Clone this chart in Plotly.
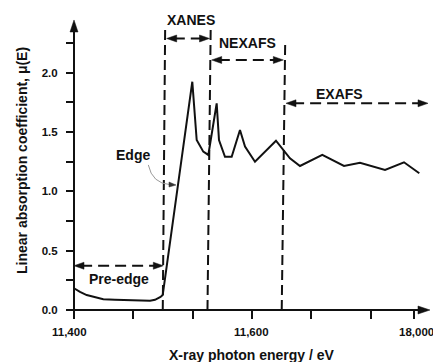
import plotly.graph_objects as go

# ---- data (x in axis-position units: one unit per major x tick) ----
x_pos = [0.0, 0.101, 0.214, 0.354, 0.494, 0.691, 0.889, 1.113, 1.282, 1.366, 1.422, 1.459, 1.496,
         1.995, 2.069, 2.180, 2.265, 2.406, 2.445, 2.546, 2.659, 2.799, 2.884, 3.052,
         3.406, 3.530, 3.642, 3.811, 4.187, 4.553, 4.823, 5.245, 5.565, 5.823]
mu = [0.183, 0.152, 0.126, 0.105, 0.090, 0.087, 0.084, 0.080, 0.078, 0.086, 0.099, 0.110, 0.126,
      1.923, 1.432, 1.334, 1.306, 1.741, 1.432, 1.291, 1.291, 1.516, 1.376, 1.249,
      1.426, 1.348, 1.278, 1.213, 1.306, 1.213, 1.241, 1.179, 1.244, 1.152]

x_tick_pos = [0, 1, 2, 3, 4, 5, 5.73]
x_tick_text = ["11,400", "", "", "11,600", "", "", "18,000"]
y_tick_vals = [0, 0.25, 0.5, 0.75, 1.0, 1.25, 1.5, 1.75, 2.0, 2.25]
y_tick_text = ["0.0", "", "0.5", "", "1.0", "", "1.5", "", "2.0", ""]

# region boundaries (x_bottom, x_top, y_top)
boundaries = [(1.497, 1.537, 2.367), (2.251, 2.305, 2.367), (3.503, 3.562, 2.275)]
# region arrows: (label, x_left, x_right, y_arrow, label_x, label_y)
regions = [("Pre-edge", 0.0, 1.506, 0.373, 0.764, 0.259),
           ("XANES", 1.563, 2.285, 2.287, 1.973, 2.443),
           ("NEXAFS", 2.322, 3.530, 2.106, 2.932, 2.247),
           ("EXAFS", 3.575, 5.970, 1.741, 4.469, 1.822)]

X_TIP = 6.003   # x-axis arrow tip
Y_TIP = 2.443   # y-axis arrow tip
X_RANGE = [-0.1686, 6.054]
Y_RANGE = [-0.0674, 2.527]
FONT = "Liberation Sans, Arial, sans-serif"
BLACK = "#111111"

fig = go.Figure()
fig.add_trace(go.Scatter(x=x_pos, y=mu, mode="lines", cliponaxis=False,
                         line=dict(color=BLACK, width=2), hoverinfo="skip"))

shapes = []
annotations = []


def head(xa, ya, direction, length=10, half=3.5):
    if direction == "right":
        p = f"M0,0 L{-length},{half} L{-length},{-half} Z"
    elif direction == "left":
        p = f"M0,0 L{length},{half} L{length},{-half} Z"
    else:  # up
        p = f"M0,0 L{-half},{-length} L{half},{-length} Z"
    return dict(type="path", xref="x", yref="y", xsizemode="pixel", ysizemode="pixel",
                xanchor=xa, yanchor=ya, path=p, fillcolor=BLACK,
                line=dict(color=BLACK, width=0.5), layer="above")


# axis lines with arrowheads (drawn inside the enlarged plot area)
shapes.append(dict(type="line", xref="x", yref="y", x0=0, y0=-0.0085, x1=0, y1=Y_TIP - 0.06,
                   line=dict(color=BLACK, width=2)))
shapes.append(dict(type="line", xref="x", yref="y", x0=0, y0=0, x1=X_TIP - 0.12, y1=0,
                   line=dict(color=BLACK, width=2)))
shapes.append(head(0, Y_TIP, "up", length=12, half=4))
shapes.append(head(X_TIP, 0, "right", length=12, half=4))

for xb, xt, yt in boundaries:
    shapes.append(dict(type="line", xref="x", yref="y", x0=xb, y0=0, x1=xt, y1=yt,
                       line=dict(color=BLACK, width=2, dash="10px,5px")))

for label, xl, xr, ya, lx, ly in regions:
    shapes.append(dict(type="line", xref="x", yref="y", x0=xl + 0.12, y0=ya, x1=xr - 0.12, y1=ya,
                       line=dict(color=BLACK, width=2, dash="11px,6px")))
    shapes.append(head(xl, ya, "left"))
    shapes.append(head(xr, ya, "right"))
    annotations.append(dict(x=lx, y=ly, xref="x", yref="y", text=label, showarrow=False,
                            font=dict(family=FONT, size=14, color=BLACK, weight="bold"),
                            xanchor="center", yanchor="middle"))

# x tick labels as annotations (fine placement)
label_shift = {"11,400": -5, "11,600": 0, "18,000": 3}
for pos, txt in zip(x_tick_pos, x_tick_text):
    if txt:
        annotations.append(dict(x=pos, y=-0.04545, xref="x", yref="paper", text=txt,
                                showarrow=False, xshift=label_shift[txt],
                                font=dict(family=FONT, size=11.5, color=BLACK, weight="bold"),
                                xanchor="center", yanchor="middle"))

# Edge label with curved pointer
annotations.append(dict(x=1.0, y=1.306, xref="x", yref="y", text="Edge", showarrow=False,
                        font=dict(family=FONT, size=14, color=BLACK, weight="bold"),
                        xanchor="center", yanchor="middle"))
shapes.append(dict(type="path", xref="x", yref="y", path="M 1.253,1.222 Q 1.32,1.065 1.62,1.056",
                   line=dict(color="#999999", width=1)))
shapes.append(dict(type="path", xref="x", yref="y", xsizemode="pixel", ysizemode="pixel",
                   xanchor=1.72, yanchor=1.053, path="M0,0 L-7,3 L-7,-2 Z",
                   fillcolor="#333333", line=dict(color="#333333", width=0.5)))

# axis titles
annotations.append(dict(x=0.5095, y=-0.1201, xref="paper", yref="paper",
                        text="X-ray photon energy / eV", showarrow=False,
                        font=dict(family=FONT, size=14, color=BLACK, weight="bold"),
                        xanchor="center", yanchor="middle"))
annotations.append(dict(x=-0.1138, y=0.5097, xref="paper", yref="paper", textangle=-90,
                        text="Linear absorption coefficient, μ(E)", showarrow=False,
                        font=dict(family=FONT, size=14, color=BLACK, weight="bold"),
                        xanchor="center", yanchor="middle"))

fig.update_layout(
    width=433, height=362,
    margin=dict(l=64, r=0, t=10, b=44),
    paper_bgcolor="white", plot_bgcolor="white",
    showlegend=False,
    shapes=shapes, annotations=annotations,
    xaxis=dict(range=X_RANGE, showgrid=False, zeroline=False, showline=False,
               anchor="free", position=0.02597,
               ticks="outside", ticklen=8, tickwidth=2, tickcolor=BLACK,
               tickvals=x_tick_pos, ticktext=x_tick_text, showticklabels=False),
    yaxis=dict(range=Y_RANGE, showgrid=False, zeroline=False, showline=False,
               anchor="free", position=0.0271,
               ticks="outside", ticklen=8, tickwidth=2, tickcolor=BLACK,
               tickvals=y_tick_vals, ticktext=y_tick_text,
               tickfont=dict(family=FONT, size=11.5, color=BLACK, weight="bold"),
               ticklabelstandoff=6),
)

fig.write_html("out.html",
               config={"displayModeBar": False, "displaylogo": False, "staticPlot": True},
               post_script="document.body.style.margin='0px';document.body.style.overflow='hidden';")
